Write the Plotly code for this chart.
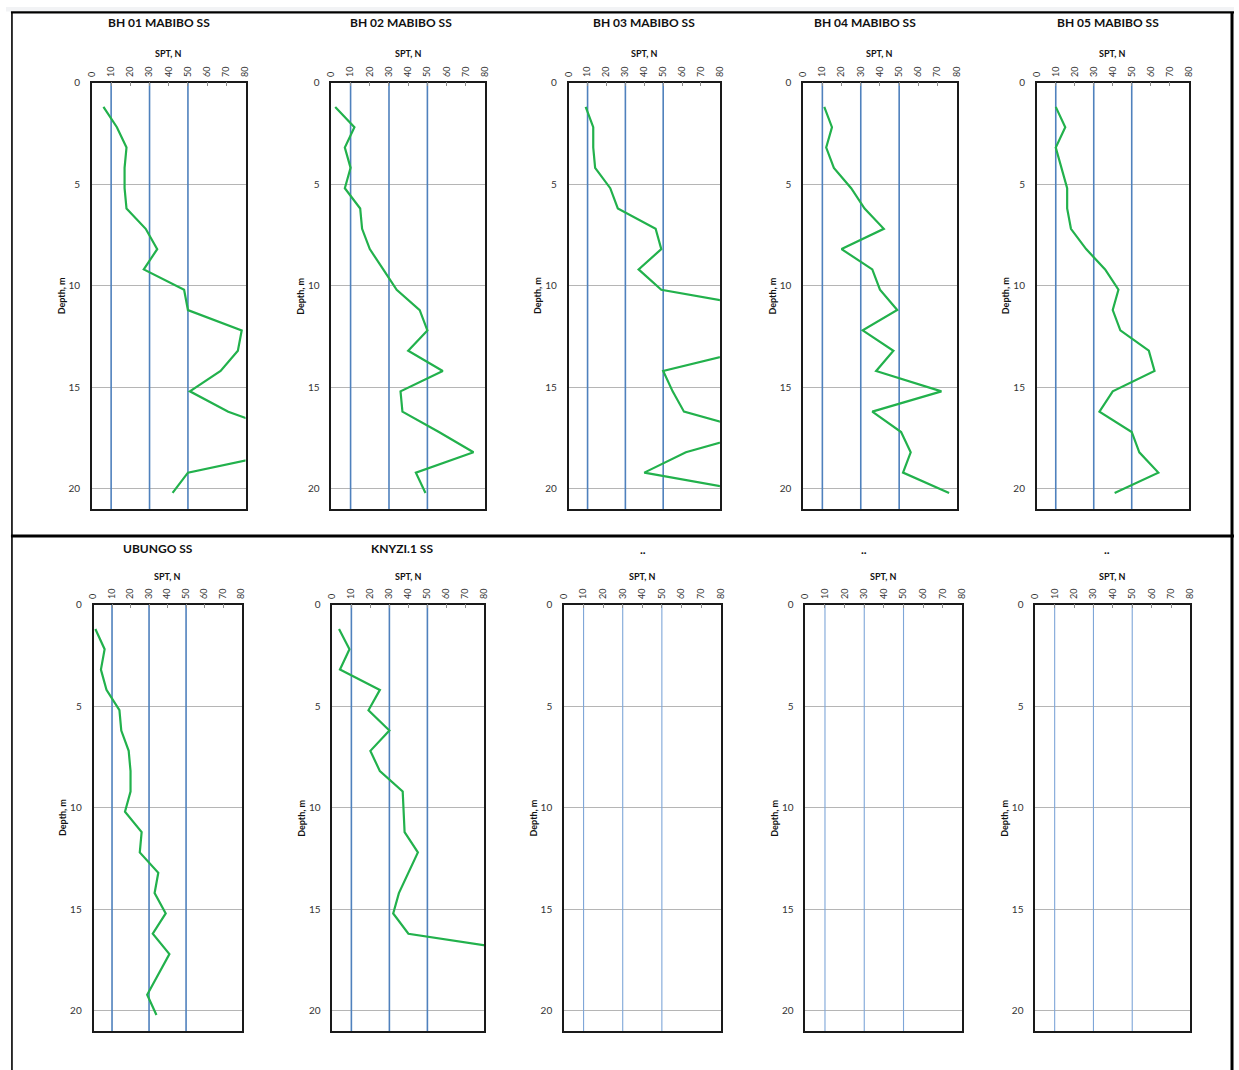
import plotly.graph_objects as go

# ---------------- data ----------------
depth = [1.2, 2.2, 3.2, 4.2, 5.2, 6.2, 7.2, 8.2, 9.2, 10.2,
         11.2, 12.2, 13.2, 14.2, 15.2, 16.2, 17.2, 18.2, 19.2, 20.2]

bh01 = [6, 13, 18, 17, 17, 18, 28, 34, 27, 48, 50, 78, 76, 67, 51, 71, 100, 100, 50, 42]
bh02 = [2, 12, 7, 10, 7, 15, 16, 20, 27, 34, 46, 50, 40, 58, 36, 37, 56, 74, 44, 49]
bh03 = [9, 13, 13, 14, 22, 26, 46, 49, 37, 49, 110, 105, 94, 50, 55, 61, 100, 62, 40, 100]
bh04 = [11, 15, 12, 16, 25, 32, 42, 20, 36, 40, 49, 31, 47, 38, 72, 36, 51, 56, 52, 76]
bh05 = [10, 15, 10, 13, 16, 16, 18, 26, 36, 43, 40, 44, 59, 62, 40, 33, 50, 54, 64, 41]
ubungo = [1, 6, 4, 7, 14, 15, 19, 20, 20, 17, 26, 25, 35, 33, 39, 32, 41, 35, 29, 34]
knyzi = [3.5, 9, 4, 25, 19, 30, 20, 25, 37, 37.5, 38, 45, 40, 35, 32, 40, 110]

titles = ["BH 01 MABIBO SS", "BH 02 MABIBO SS", "BH 03 MABIBO SS", "BH 04 MABIBO SS",
          "BH 05 MABIBO SS", "UBUNGO SS", "KNYZI.1 SS", "..", "..", ".."]
series = [bh01, bh02, bh03, bh04, bh05, ubungo, knyzi, None, None, None]

ref_n = [10, 30, 50]          # vertical reference lines (SPT N)
depth_span = [0, 21]
x_ticks = [0, 10, 20, 30, 40, 50, 60, 70, 80]
depth_ticks = [0, 5, 10, 15, 20]
x_title = "SPT, N"
y_title = "Depth, m"

# ---------------- layout geometry (pixels) ----------------
W, H = 1239, 1070


def px(sx):
    return sx / W


def py(sy):
    return 1 - sy / H


R1T, R1B = 76, 505.5
R2T, R2B = 601.5, 1031
panels = [
    (86.7, 241.7, R1T, R1B),
    (328.3, 483.3, R1T, R1B),
    (567.7, 720.3, R1T, R1B),
    (804.3, 959.3, R1T, R1B),
    (1040.0, 1193.3, R1T, R1B),
    (88.3, 237.7, R2T, R2B),
    (329.3, 482.7, R2T, R2B),
    (563.0, 721.0, R2T, R2B),
    (806.5, 965.0, R2T, R2B),
    (1038.5, 1195.0, R2T, R2B),
]
title_pos = [(154, 16), (398.5, 16), (644, 16), (866.5, 16), (1111.5, 16),
             (153.5, 545), (399.5, 545), (643, 546), (866, 546), (1111, 546)]

FONT = "Lato"
GREEN = "#22b14c"
BLUE = "#4f81bd"
BLUE_LIGHT = "#7ea6d8"

fig = go.Figure()
annotations = []
layout_axes = {}

for i, (l, r, t, b) in enumerate(panels):
    k = "" if i == 0 else str(i + 1)
    xa, ya = "x" + k, "y" + k
    has_data = series[i] is not None
    bcol = BLUE if has_data else BLUE_LIGHT
    bw = 1.6 if has_data else 1.1
    for v in ref_n:
        fig.add_trace(go.Scatter(x=[v, v], y=depth_span, mode="lines",
                                 line=dict(color=bcol, width=bw),
                                 xaxis=xa, yaxis=ya, showlegend=False, hoverinfo="skip"))
    if has_data:
        n = series[i]
        fig.add_trace(go.Scatter(x=n, y=depth[:len(n)], mode="lines",
                                 line=dict(color=GREEN, width=2.2),
                                 xaxis=xa, yaxis=ya, showlegend=False))

    layout_axes["xaxis" + k] = dict(
        domain=[px(l), px(r)], range=[0, 80], side="top", anchor=ya,
        tickvals=x_ticks, tickangle=-90, ticks="inside", ticklen=4,
        tickcolor="#8c8c8c", tickwidth=1, showgrid=False, zeroline=False,
        showline=True, mirror=True, linecolor="#1a1a1a", linewidth=1.6,
        tickfont=dict(family=FONT, size=9, color="#333333"),
        ticklabelstandoff=2, fixedrange=True)
    layout_axes["yaxis" + k] = dict(
        domain=[py(b), py(t)], range=[21, 0], anchor=xa,
        tickvals=depth_ticks, showgrid=True, gridcolor="#b5b5b5", gridwidth=1,
        zeroline=False, showline=True, mirror=True, linecolor="#1a1a1a",
        linewidth=1.6, ticks="", ticklabelstandoff=8,
        tickfont=dict(family=FONT, size=10, color="#333333"), fixedrange=True)

    cx, cy = title_pos[i]
    annotations.append(dict(text="<b>%s</b>" % titles[i], x=px(cx), y=py(cy),
                            xref="paper", yref="paper", showarrow=False,
                            xanchor="center", yanchor="middle",
                            font=dict(family=FONT, size=12, color="#111111")))
    spt_y = 47 if i < 5 else 573
    annotations.append(dict(text="<b>%s</b>" % x_title, x=px((l + r) / 2), y=py(spt_y),
                            xref="paper", yref="paper", showarrow=False,
                            xanchor="center", yanchor="middle",
                            font=dict(family=FONT, size=9, color="#111111")))
    annotations.append(dict(text="<b>%s</b>" % y_title, x=px(l - 30.7), y=py((t + b) / 2),
                            xref="paper", yref="paper", showarrow=False, textangle=-90,
                            xanchor="center", yanchor="middle",
                            font=dict(family=FONT, size=9, color="#111111")))

shapes = [
    dict(type="rect", xref="paper", yref="paper", x0=0, x1=1, y0=py(4.5), y1=1,
         fillcolor="#f2f3f5", line=dict(width=0), layer="below"),
    dict(type="line", xref="paper", yref="paper", x0=px(5), x1=1, y0=py(5.5), y1=py(5.5),
         line=dict(color="black", width=2.2)),
    dict(type="line", xref="paper", yref="paper", x0=px(6), x1=px(6), y0=0, y1=py(5),
         line=dict(color="black", width=1.6)),
    dict(type="line", xref="paper", yref="paper", x0=px(1237), x1=px(1237), y0=0, y1=py(5),
         line=dict(color="black", width=3)),
    dict(type="line", xref="paper", yref="paper", x0=px(5), x1=1, y0=py(532.5), y1=py(532.5),
         line=dict(color="black", width=3)),
]

fig.update_layout(
    width=W, height=H, margin=dict(l=0, r=0, t=0, b=0),
    paper_bgcolor="white", plot_bgcolor="white",
    font=dict(family=FONT, color="#333333"),
    annotations=annotations, shapes=shapes, showlegend=False,
    **layout_axes)

post = ("document.documentElement.style.margin='0';document.documentElement.style.padding='0';"
        "document.documentElement.style.overflow='hidden';"
        "document.body.style.margin='0';document.body.style.padding='0';"
        "document.body.style.overflow='hidden';"
        "var d=document.getElementById('{plot_id}');"
        "if(d){d.style.position='absolute';d.style.left='0px';d.style.top='0px';}"
        "window.scrollTo(0,0);")

fig.write_html("out.html", config={"displayModeBar": False}, post_script=post)
